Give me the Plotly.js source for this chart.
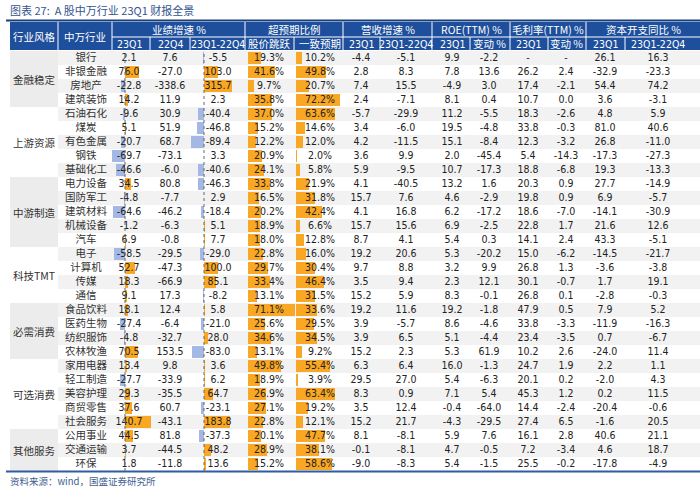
<!DOCTYPE html>
<html><head><meta charset="utf-8">
<script src="https://cdn.plot.ly/plotly-3.0.1.min.js"></script>
<style>html,body{margin:0;padding:0;background:#fff}#chart{width:700px;height:491px}</style>
</head><body><div id="chart"></div>
<script>
// ---------------- data ----------------
const styleGroups = ['金融稳定','上游资源','中游制造','科技TMT','必需消费','可选消费','其他服务'];
const groupSizes  = [4,5,5,4,4,5,3];
const industries = ['银行','非银金融','房地产','建筑装饰','石油石化','煤炭','有色金属','钢铁','基础化工',
  '电力设备','国防军工','建筑材料','机械设备','汽车','电子','计算机','传媒','通信',
  '食品饮料','医药生物','纺织服饰','农林牧渔','家用电器','轻工制造','美容护理','商贸零售','社会服务',
  '公用事业','交通运输','环保'];
const np23Q1   = [2.1,76.0,-22.8,14.2,-9.6,5.1,-20.7,-69.7,-46.6,34.5,-4.8,-64.6,-1.2,6.9,-58.5,52.7,18.3,9.1,18.1,-27.4,-4.8,70.5,13.4,-27.7,29.3,37.6,140.7,44.5,3.7,1.8];
const np22Q4   = [7.6,-27.0,-338.6,11.9,30.9,51.9,68.7,-73.1,-6.0,80.8,-7.7,-46.2,-6.3,-0.8,-29.5,-47.3,-66.9,17.3,12.4,-6.4,-32.7,153.5,9.8,-33.9,-35.5,60.7,-43.1,81.8,-44.5,-11.8];
const npChg    = [-5.5,103.0,315.7,2.3,-40.4,-46.8,-89.4,3.3,-40.6,-46.3,2.9,-18.4,5.1,7.7,-29.0,100.0,85.1,-8.2,5.8,-21.0,28.0,-83.0,3.6,6.2,64.7,-23.1,183.8,-37.3,48.2,13.6];
const surpPrice= [19.3,41.6,9.7,35.8,37.0,15.2,12.2,20.9,24.1,33.8,16.5,20.2,18.9,18.0,22.8,29.7,33.4,13.1,71.1,25.6,34.6,13.1,49.8,18.9,26.9,27.1,22.8,20.1,28.9,15.2];
const surpCons = [10.2,49.8,20.7,72.2,63.6,14.6,12.0,2.0,5.8,21.9,31.8,42.4,6.6,12.8,16.0,30.4,46.4,31.5,33.6,29.5,34.5,9.2,55.4,3.9,63.4,19.2,12.1,47.7,38.1,58.6];
const rev23Q1  = [-4.4,2.8,7.4,2.4,-5.7,3.4,4.2,3.6,5.9,4.1,15.7,4.1,15.7,8.7,19.2,9.7,3.5,15.2,19.2,3.9,3.9,15.2,6.3,29.5,8.3,3.5,15.2,8.1,-0.1,-9.0];
const revChg   = [-5.1,8.3,15.5,-7.1,-29.9,-6.0,-11.5,9.9,-9.5,-40.5,7.6,16.8,15.6,4.1,20.6,8.8,9.4,5.9,11.6,-5.7,6.5,2.3,6.4,27.0,0.9,12.4,21.7,-8.1,-8.1,-8.3];
const roe23Q1  = [9.9,7.8,-4.9,8.1,11.2,19.5,15.1,2.0,10.7,13.2,4.6,6.2,6.9,5.4,5.3,3.2,2.3,8.3,19.2,8.6,5.1,5.3,16.0,5.4,7.1,-0.4,-4.3,5.9,4.7,5.4];
const roeChg   = [-2.2,13.6,3.0,0.4,-5.5,-4.8,-8.4,-45.4,-17.3,1.6,-2.9,-17.2,-2.5,0.3,-20.2,9.9,12.1,-0.1,-1.8,-4.6,-4.4,61.9,-1.3,-6.3,5.4,-64.0,-29.5,7.6,-0.5,-1.5];
const gm23Q1   = [null,26.2,17.4,10.7,18.3,33.8,12.3,5.4,18.8,20.3,19.8,18.6,22.8,14.1,15.0,26.8,30.1,26.8,47.9,33.8,23.4,10.2,24.7,20.1,45.3,14.4,27.4,16.1,7.2,25.5];
const gmChg    = [null,2.4,-2.1,0.0,-2.6,-0.3,-3.2,-14.3,-6.8,0.9,0.9,-7.0,1.7,2.4,-6.2,1.3,-0.7,0.1,0.5,-3.3,-3.5,2.6,1.9,0.2,1.2,-2.4,6.5,2.8,-3.4,-0.2];
const capex23Q1= [26.1,-32.9,54.4,3.6,4.8,81.0,26.8,-17.3,19.3,27.7,6.9,-14.1,21.6,43.3,-14.5,-3.6,1.7,-2.8,7.9,-11.9,0.7,-24.0,2.2,-2.0,0.2,-20.4,-1.6,40.6,4.6,-17.8];
const capexChg = [16.3,-23.3,74.2,-3.1,5.9,40.6,-11.0,-27.3,-13.3,-14.9,-5.7,-30.9,12.6,-5.1,-21.7,-3.8,19.1,-0.3,5.2,-16.3,-6.7,11.4,1.1,4.3,11.5,-0.6,20.5,21.1,18.7,-4.9];

const headerTop = ['业绩增速 %','超预期比例','营收增速 %','ROE(TTM) %','毛利率(TTM) %','资本开支同比 %'];
const headerSub = ['23Q1','22Q4','23Q1-22Q4','股价跳跃','一致预期','23Q1','23Q1-22Q4','23Q1','变动 %','23Q1','变动 %','23Q1','23Q1-22Q4'];
const titleText = '图表 27:  A 股中万行业 23Q1 财报全景';
const sourceText = '资料来源：wind，国盛证券研究所';

// ---------------- geometry / style ----------------
const W=700, H=491;
const px = v => v/W, py = v => 1 - v/H;
const tableL = 6, tableR = 700, groupR = 58, indR = 112;
const headTop = 22, headMid = 37, headBot = 50, rowsTop = 51, rowsBot = 471;
const subCols = [[112,150],[150,190],[190,245],[245,294],[294,343],[343,380],[380,432],[432,470],[470,510],[510,548],[548,586],[586,625],[625,700]];
const topSpans = [[112,245],[245,343],[343,432],[432,510],[510,586],[586,700]];
const textX = [129,170,218,269,320,361,406,452,489,528,566,605,658];
const BLUE = '#1E4F9C', ORANGE = '#F9A825', LBLUE = '#A3B8E4';
const NUMFONT = '"DejaVu Sans Condensed", "Liberation Sans", sans-serif';
const CJK = '"Noto Sans CJK SC", sans-serif';

const fmt = v => v == null ? '-' : v.toFixed(1);
const fmtP = v => v.toFixed(1) + '%';
const colour = v => v >= 0 ? ORANGE : LBLUE;

// ---------------- traces ----------------
const traces = [];
function barTrace(vals, xa){
  return {type:'bar', orientation:'h', x:vals, y:industries, xaxis:xa, yaxis:'y',
    width:0.82, marker:{color:vals.map(colour), line:{width:0}}, hoverinfo:'skip', showlegend:false};
}
traces.push(barTrace(np23Q1,'x'));
traces.push(barTrace(npChg,'x2'));
traces.push(barTrace(surpPrice,'x3'));
traces.push(barTrace(surpCons,'x4'));

const textCols = [np23Q1.map(fmt), np22Q4.map(fmt), npChg.map(fmt), surpPrice.map(fmtP), surpCons.map(fmtP),
  rev23Q1.map(fmt), revChg.map(fmt), roe23Q1.map(fmt), roeChg.map(fmt), gm23Q1.map(fmt), gmChg.map(fmt),
  capex23Q1.map(fmt), capexChg.map(fmt)];
textCols.forEach((txt, i) => {
  traces.push({type:'scatter', mode:'text', x:industries.map(()=>textX[i]), y:industries, text:txt,
    xaxis:'x5', yaxis:'y', textposition:'middle center', cliponaxis:false,
    textfont:{family:NUMFONT, size:10.5, color:'#222'}, hoverinfo:'skip', showlegend:false});
});
traces.push({type:'scatter', mode:'text', x:industries.map(()=>86), y:industries, text:industries,
  xaxis:'x5', yaxis:'y', textposition:'middle center', cliponaxis:false,
  textfont:{family:CJK, size:10.5, color:'#333'}, hoverinfo:'skip', showlegend:false});

// ---------------- shapes & annotations ----------------
const shapes = [], annotations = [];
const ann = o => annotations.push(Object.assign({showarrow:false, xanchor:'center', yanchor:'middle'}, o));
// row stripes
industries.forEach((_, i) => {
  if (i % 2 === 0) shapes.push({type:'rect', xref:'paper', yref:'y', x0:px(groupR), x1:px(tableR),
    y0:i-0.5, y1:i+0.5, fillcolor:'#F2F2F2', line:{width:0}, layer:'below'});
});
// group blocks and labels
let start = 0;
styleGroups.forEach((g, k) => {
  const n = groupSizes[k];
  if (k % 2 === 0) shapes.push({type:'rect', xref:'paper', yref:'y', x0:px(tableL+4), x1:px(groupR),
    y0:start-0.5, y1:start+n-0.5, fillcolor:'#ECECEC', line:{width:0}, layer:'below'});
  ann({text:g, xref:'paper', yref:'y', x:px(34), y:start+(n-1)/2, font:{family:CJK, size:10.5, color:'#333'}});
  start += n;
});
// header
shapes.push({type:'rect', xref:'paper', yref:'paper', x0:px(tableL+4), x1:px(tableR), y0:py(headBot), y1:py(headTop),
  fillcolor:BLUE, line:{width:0}, layer:'below'});
shapes.push({type:'line', xref:'paper', yref:'paper', x0:px(tableL), x1:px(tableR), y0:py(20.5), y1:py(20.5),
  line:{color:'#1A3F7F', width:2}});
shapes.push({type:'line', xref:'paper', yref:'paper', x0:px(indR), x1:px(tableR), y0:py(headMid), y1:py(headMid),
  line:{color:'#fff', width:1}});
[groupR, indR].concat(topSpans.map(s=>s[1]).slice(0,-1)).forEach(x => shapes.push({type:'line', xref:'paper', yref:'paper',
  x0:px(x), x1:px(x), y0:py(headBot), y1:py(headTop), line:{color:'#fff', width:1}}));
subCols.forEach(c => { if (!topSpans.some(s => s[0] === c[0])) shapes.push({type:'line', xref:'paper', yref:'paper',
  x0:px(c[0]), x1:px(c[0]), y0:py(headBot), y1:py(headMid), line:{color:'#fff', width:1}}); });
// bottom rule
shapes.push({type:'line', xref:'paper', yref:'paper', x0:px(tableL), x1:px(tableR), y0:py(rowsBot+0.5), y1:py(rowsBot+0.5),
  line:{color:'#2F5D9F', width:2}});
// dashed zero lines
['x','x2'].forEach(xa => shapes.push({type:'line', xref:xa, yref:'paper', x0:0, x1:0, y0:py(rowsBot), y1:py(rowsTop),
  line:{color:'#666', width:1, dash:'dot'}, layer:'above'}));

const hdrFont = {family:CJK, size:10.5, color:'#fff'};
ann({text:'行业风格', xref:'paper', yref:'paper', x:px((tableL+4+groupR)/2), y:py((headTop+headBot)/2), font:hdrFont});
ann({text:'中万行业', xref:'paper', yref:'paper', x:px((groupR+indR)/2), y:py((headTop+headBot)/2), font:hdrFont});
headerTop.forEach((t, i) => ann({text:t, xref:'paper', yref:'paper', x:px((topSpans[i][0]+topSpans[i][1])/2),
  y:py((headTop+headMid)/2), font:hdrFont}));
headerSub.forEach((t, i) => ann({text:t, xref:'paper', yref:'paper', x:px(textX[i]),
  y:py((headMid+headBot)/2), font:{family:/[0-9]/.test(t) ? NUMFONT : CJK, size:10.5, color:'#fff'}}));
ann({text:titleText, xref:'paper', yref:'paper', x:px(8), y:py(10), xanchor:'left', font:{family:CJK, size:11, color:'#34558F'}});
ann({text:sourceText, xref:'paper', yref:'paper', x:px(8), y:py(481), xanchor:'left', font:{family:CJK, size:9.5, color:'#44618F'}});

// ---------------- axes ----------------
const hid = {visible:false, fixedrange:true, showgrid:false, zeroline:false, anchor:'y'};
const layout = {
  width:W, height:H, margin:{l:0,r:0,t:0,b:0}, paper_bgcolor:'#fff', plot_bgcolor:'rgba(0,0,0,0)',
  showlegend:false, barmode:'overlay', bargap:0,
  xaxis: Object.assign({domain:[px(112),px(158)], range:[-71,180.3]}, hid),
  xaxis2:Object.assign({domain:[px(190),px(232)], range:[-100,200]}, hid),
  xaxis3:Object.assign({domain:[px(248),px(296)], range:[0,72.7]}, hid),
  xaxis4:Object.assign({domain:[px(296),px(342)], range:[0,75.4]}, hid),
  xaxis5:Object.assign({domain:[0,1], range:[0,W]}, hid),
  yaxis:{domain:[py(rowsBot),py(rowsTop)], type:'category', categoryorder:'array', categoryarray:industries,
    range:[industries.length-0.5,-0.5], visible:false, fixedrange:true, showgrid:false, zeroline:false},
  shapes, annotations
};
Plotly.newPlot('chart', traces, layout, {displayModeBar:false, staticPlot:true});
</script></body></html>
